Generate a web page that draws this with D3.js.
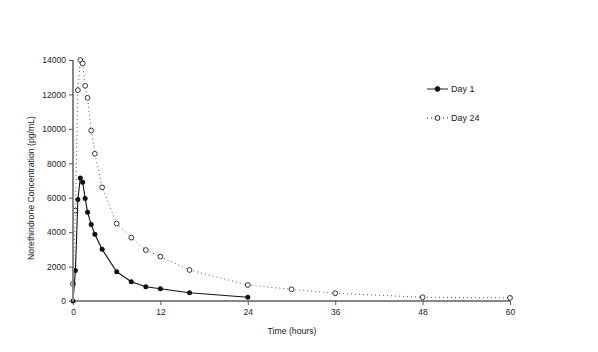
<!DOCTYPE html>
<html>
<head>
<meta charset="utf-8">
<script src="https://cdn.jsdelivr.net/npm/d3@7"></script>
<style>
  body { margin: 0; background: #fff; }
  svg { display: block; font-family: 'Liberation Sans', Arial, sans-serif; }
  .axis text { font-size: 8.5px; fill: #222; }
  .axis-title { font-size: 8.7px; fill: #222; }
  .legend text { font-size: 9px; fill: #222; }
</style>
</head>
<body>
<svg></svg>
<script>
// hours after dose
var day1Hours = [0, 0.33, 0.67, 1, 1.33, 1.67, 2, 2.5, 3, 4, 6, 8, 10, 12, 16, 24];
var day1Conc = [0, 1770, 5900, 7150, 6900, 5950, 5150, 4450, 3880, 3000, 1700, 1120, 830, 710, 480, 215];

var day24Hours = [0, 0.33, 0.67, 1, 1.33, 1.67, 2, 2.5, 3, 4, 6, 8, 10, 12, 16, 24, 30, 36, 48, 60];
var day24Conc = [1000, 5250, 12250, 14000, 13800, 12500, 11800, 9900, 8550, 6600, 4500, 3680, 2960, 2580, 1800, 930, 680, 450, 220, 180];

var xTicks = [0, 12, 24, 36, 48, 60];
var yTicks = [0, 2000, 4000, 6000, 8000, 10000, 12000, 14000];

var margin = {
  top: 60,
  right: 88,
  bottom: 51,
  left: 73
};
var width = 598 - margin.left - margin.right;
var height = 352 - margin.top - margin.bottom;

var svg = d3.select('svg')
  .attr('width', 598)
  .attr('height', 352);
var g = svg.append('g')
  .attr('transform', 'translate(' + margin.left + ',' + margin.top + ')');

var scaleX = d3.scaleLinear()
  .domain([0, 60])
  .range([0, width]);
var scaleY = d3.scaleLinear()
  .domain([0, 14000])
  .range([height, 0]);

var day1 = day1Hours.map(function(h, i) {
  return { t: h, c: day1Conc[i] };
});
var day24 = day24Hours.map(function(h, i) {
  return { t: h, c: day24Conc[i] };
});

var line = d3.line()
  .x(function(d) { return scaleX(d.t); })
  .y(function(d) { return scaleY(d.c); });

// day 24 first so day 1 sits on top
g.append('path')
  .datum(day24)
  .attr('fill', 'none')
  .attr('stroke', '#555')
  .attr('stroke-width', 1)
  .attr('stroke-dasharray', '1,3')
  .attr('d', line);

g.selectAll('.pt24')
  .data(day24)
  .enter().append('circle')
  .attr('class', 'pt24')
  .attr('cx', function(d) { return scaleX(d.t); })
  .attr('cy', function(d) { return scaleY(d.c); })
  .attr('r', 2.4)
  .attr('fill', '#fff')
  .attr('stroke', '#333')
  .attr('stroke-width', 1);

g.append('path')
  .datum(day1)
  .attr('fill', 'none')
  .attr('stroke', '#111')
  .attr('stroke-width', 1.1)
  .attr('d', line);

g.selectAll('.pt1')
  .data(day1)
  .enter().append('circle')
  .attr('class', 'pt1')
  .attr('cx', function(d) { return scaleX(d.t); })
  .attr('cy', function(d) { return scaleY(d.c); })
  .attr('r', 2.5)
  .attr('fill', '#111');

// axes
var xAxis = d3.axisBottom(scaleX)
  .tickValues(xTicks)
  .tickSize(4)
  .tickPadding(4);
var yAxis = d3.axisLeft(scaleY)
  .tickValues(yTicks)
  .tickSize(4)
  .tickPadding(3)
  .tickFormat(d3.format('d'));

var gx = g.append('g')
  .attr('class', 'axis x-axis')
  .attr('transform', 'translate(0,' + height + ')')
  .call(xAxis);
gx.select('.domain').attr('stroke', '#111').attr('d', 'M0,0H' + width);
gx.selectAll('.tick line').attr('stroke', '#555');

var gy = g.append('g')
  .attr('class', 'axis y-axis')
  .call(yAxis);
gy.select('.domain').attr('stroke', '#888').attr('stroke-width', 2).attr('d', 'M0,0V' + height);
gy.selectAll('.tick line').attr('stroke', '#555');

svg.append('text')
  .attr('class', 'axis-title')
  .attr('x', 292)
  .attr('y', 334)
  .attr('text-anchor', 'middle')
  .text('Time (hours)');

svg.append('text')
  .attr('class', 'axis-title')
  .attr('transform', 'translate(34,188) rotate(-90)')
  .attr('text-anchor', 'middle')
  .text('Norethindrone Concentration (pg/mL)');

// legend
var legendItems = [
  { label: 'Day 1', dash: null, fill: '#111', y: 89 },
  { label: 'Day 24', dash: '1,3', fill: '#fff', y: 118 }
];
var legend = svg.append('g').attr('class', 'legend');
legendItems.forEach(function(item) {
  legend.append('line')
    .attr('x1', 427)
    .attr('x2', 448)
    .attr('y1', item.y)
    .attr('y2', item.y)
    .attr('stroke', '#222')
    .attr('stroke-dasharray', item.dash);
  legend.append('circle')
    .attr('cx', 437.5)
    .attr('cy', item.y)
    .attr('r', 2.4)
    .attr('fill', item.fill)
    .attr('stroke', '#222');
  legend.append('text')
    .attr('x', 451)
    .attr('y', item.y + 3)
    .text(item.label);
});
</script>
</body>
</html>
